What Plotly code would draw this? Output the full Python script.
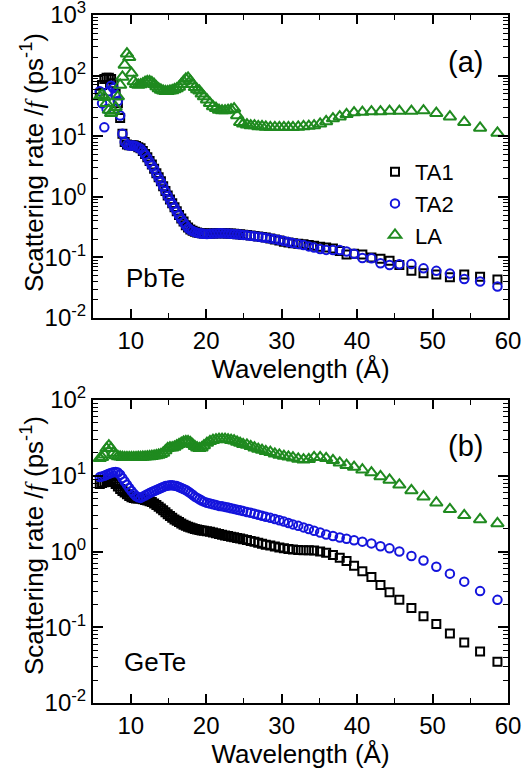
import plotly.graph_objects as go

# Wavelength grid (Å)
wavelength = [
    5.9, 6.2, 6.5, 6.8, 7.1, 7.4, 7.7, 8.0, 8.3, 8.6,
    8.9, 9.2, 9.5, 9.8, 10.1, 10.4, 10.7, 11.0, 11.3, 11.6,
    11.9, 12.2, 12.5, 12.8, 13.1, 13.4, 13.7, 14.0, 14.3, 14.6,
    14.9, 15.2, 15.5, 15.8, 16.1, 16.4, 16.7, 17.0, 17.3, 17.6,
    17.9, 18.2, 18.5, 18.8, 19.1, 19.4, 19.7, 20.1, 20.5, 20.9,
    21.3, 21.7, 22.1, 22.5, 22.9, 23.3, 23.7, 24.1, 24.5, 24.9,
    25.4, 25.9, 26.4, 26.9, 27.4, 27.9, 28.5, 29.1, 29.7, 30.3,
    30.9, 31.5, 32.2, 32.9, 33.6, 34.3, 35.1, 35.9, 36.8, 37.7,
    38.6, 39.6, 40.7, 41.9, 43.1, 44.3, 45.6, 47.2, 48.8, 50.5,
    52.3, 54.2, 56.3, 58.6,
]

# PbTe (panel a)
pbte_ta1 = [
    50, 70, 88, 92, 92, 88, 75, 50, 35, 20,
    11, 8, 7.3, 7.1, 7.1, 7.1, 6.9, 6.6, 6.3, 5.7,
    5.1, 4.5, 3.9, 3.4, 2.9, 2.45, 2.1, 1.8, 1.5, 1.25,
    1.05, 0.9, 0.78, 0.67, 0.58, 0.5, 0.44, 0.39, 0.34, 0.31,
    0.29, 0.275, 0.265, 0.258, 0.252, 0.25, 0.248, 0.247, 0.247, 0.248,
    0.25, 0.25, 0.25, 0.25, 0.249, 0.247, 0.245, 0.242, 0.24, 0.237,
    0.234, 0.23, 0.226, 0.222, 0.218, 0.212, 0.205, 0.198, 0.19, 0.182,
    0.176, 0.172, 0.168, 0.165, 0.16, 0.155, 0.15, 0.145, 0.14, 0.128,
    0.112, 0.115, 0.112, 0.1, 0.095, 0.088, 0.075, 0.06, 0.055, 0.052,
    0.047, 0.052, 0.048, 0.043,
]
pbte_ta2 = [
    55, 35, 14, 28, 55, 68, 62, 48, 38, 22,
    11, 8, 7.2, 7.0, 7.0, 7.0, 6.8, 6.5, 6.2, 5.6,
    5.0, 4.4, 3.8, 3.3, 2.9, 2.4, 2.05, 1.75, 1.48, 1.23,
    1.03, 0.88, 0.76, 0.66, 0.57, 0.49, 0.43, 0.38, 0.335, 0.305,
    0.285, 0.272, 0.262, 0.255, 0.25, 0.247, 0.245, 0.244, 0.245, 0.247,
    0.249, 0.25, 0.25, 0.249, 0.247, 0.245, 0.243, 0.24, 0.238, 0.235,
    0.232, 0.228, 0.224, 0.22, 0.215, 0.21, 0.205, 0.2, 0.193, 0.186,
    0.18, 0.173, 0.166, 0.16, 0.152, 0.145, 0.137, 0.133, 0.132, 0.132,
    0.125, 0.115, 0.098, 0.097, 0.08, 0.075, 0.077, 0.078, 0.066, 0.06,
    0.054, 0.044, 0.04, 0.033,
]
pbte_la = [
    45, 48, 44, 35, 27, 24, 26, 30, 45, 70,
    95, 150, 230, 200, 110, 80, 72, 70, 71, 74,
    78, 80, 80, 77, 72, 66, 61, 58, 56, 55,
    55, 56, 57, 59, 61, 65, 72, 80, 88, 92,
    82, 72, 64, 59, 56, 50, 45, 40, 35, 31,
    29, 27, 26.5, 26.5, 27, 27.5, 28.5, 22, 17, 16,
    15.5, 15, 15, 14.5, 14.5, 14.2, 14, 14, 14, 14,
    14, 14, 14.2, 14.5, 14.7, 15, 16, 17.5, 19.5, 21,
    23, 24.5, 25, 25.5, 25.5, 26, 26, 26, 26.5, 24,
    21, 17, 13.7, 11.3,
]

# GeTe (panel b)
gete_ta1 = [
    7.8, 8.0, 8.2, 8.4, 8.6, 8.6, 8.3, 7.8, 7.2, 6.7,
    6.3, 6.0, 5.7, 5.4, 5.2, 5.1, 5.0, 5.0, 5.0, 4.9,
    4.8, 4.7, 4.6, 4.5, 4.3, 4.1, 3.9, 3.7, 3.5, 3.3,
    3.1, 2.95, 2.8, 2.65, 2.55, 2.45, 2.35, 2.25, 2.18, 2.12,
    2.07, 2.02, 1.98, 1.95, 1.92, 1.9, 1.88, 1.85, 1.82, 1.78,
    1.74, 1.7, 1.67, 1.63, 1.6, 1.57, 1.54, 1.51, 1.48, 1.45,
    1.42, 1.38, 1.34, 1.3, 1.27, 1.23, 1.2, 1.16, 1.13, 1.1,
    1.08, 1.06, 1.05, 1.04, 1.04, 1.03, 1.0, 0.96, 0.9, 0.83,
    0.75, 0.65, 0.55, 0.46, 0.36, 0.29, 0.23, 0.18, 0.14, 0.11,
    0.083, 0.063, 0.048, 0.035,
]
gete_ta2 = [
    9.6, 9.8, 10.0, 10.3, 10.6, 10.9, 11.1, 11.2, 11.0, 10.3,
    9.3, 8.4, 7.6, 6.9, 6.3, 5.8, 5.4, 5.2, 5.1, 5.3,
    5.5, 5.7, 5.9, 6.1, 6.3, 6.5, 6.7, 6.9, 7.1, 7.3,
    7.4, 7.5, 7.5, 7.4, 7.3, 7.1, 6.9, 6.7, 6.5, 6.2,
    5.9, 5.6, 5.3, 5.1, 4.9, 4.7, 4.55, 4.4, 4.3, 4.2,
    4.1, 4.0, 3.95, 3.88, 3.8, 3.72, 3.65, 3.57, 3.5, 3.42,
    3.33, 3.24, 3.15, 3.06, 2.97, 2.88, 2.78, 2.68, 2.58, 2.48,
    2.38, 2.28, 2.18, 2.08, 1.98, 1.88, 1.78, 1.68, 1.6, 1.53,
    1.47, 1.41, 1.35, 1.28, 1.17, 1.1, 1.0, 0.87, 0.76, 0.63,
    0.51, 0.40, 0.30, 0.23,
]
gete_la = [
    17, 17.5, 19, 23, 25, 23, 20, 18.5, 18, 17.8,
    17.6, 17.5, 17.5, 17.5, 17.5, 17.5, 17.5, 17.6, 17.6, 17.7,
    17.8, 17.9, 18, 18.1, 18.3, 18.5, 18.8, 19.2, 20, 21.5,
    23, 23.5, 23.5, 24, 25, 26, 27, 28, 28.5, 28.5,
    27.5, 26, 24.5, 23.5, 23, 23.5, 25, 27, 28.5, 29.5,
    30, 30.5, 30.5, 30.5, 30, 29.5, 29, 28, 27, 26,
    25.5, 24.5, 23.5, 22.5, 21.8, 21, 20.5, 19.5, 18.8, 18.2,
    17.8, 17.3, 16.7, 16.3, 16.5, 17.5, 17.5, 17, 16, 14.8,
    13.8, 13, 12, 11, 9.8, 8.8, 7.6, 6.4, 5.3, 4.4,
    3.6, 3.0, 2.65, 2.35,
]

series_names = ["TA1", "TA2", "LA"]
series_colors = ["#000000", "#1414dc", "#1f8a1f"]
series_symbols = ["square-open", "circle-open", "triangle-up-open"]
series_sizes = [8, 8.5, 11]

x_ticks = [10, 20, 30, 40, 50, 60]
y_ticks_a = [1e-2, 1e-1, 1e0, 1e1, 1e2, 1e3]
y_labels_a = ["10<sup>-2</sup>", "10<sup>-1</sup>", "10<sup>0</sup>",
              "10<sup>1</sup>", "10<sup>2</sup>", "10<sup>3</sup>"]
y_ticks_b = [1e-2, 1e-1, 1e0, 1e1, 1e2]
y_labels_b = ["10<sup>-2</sup>", "10<sup>-1</sup>", "10<sup>0</sup>",
              "10<sup>1</sup>", "10<sup>2</sup>"]

FONT = "Liberation Sans, Arial, sans-serif"

fig = go.Figure()

panels = [
    ("x", "y", [pbte_ta1, pbte_ta2, pbte_la], True),
    ("x2", "y2", [gete_ta1, gete_ta2, gete_la], False),
]
for xa, ya, data, show in panels:
    for i, vals in enumerate(data):
        fig.add_trace(go.Scatter(
            x=wavelength, y=vals, xaxis=xa, yaxis=ya, mode="markers",
            name=series_names[i], showlegend=show,
            marker=dict(symbol=series_symbols[i], size=series_sizes[i],
                        color=series_colors[i],
                        line=dict(width=2, color=series_colors[i])),
        ))

W, H = 524, 771
xdom = [93 / W, 508 / W]
ydom_a = [1 - 318 / H, 1 - 15 / H]
ydom_b = [1 - 703 / H, 1 - 400 / H]

ytitle = ("Scattering rate /<span style=\"font-family:'Liberation Serif';font-style:italic\">f</span>"
          " (ps<sup>-1</sup>)")


def xaxis_cfg(anchor):
    return dict(
        domain=xdom, anchor=anchor, range=[5, 60], automargin=False,
        tickvals=x_ticks, ticks="inside", ticklen=9, tickwidth=1.5,
        tickcolor="black", showline=True, linecolor="black", linewidth=2,
        mirror="allticks", showgrid=False, zeroline=False,
        ticklabeloverflow="allow",
        minor=dict(dtick=5, tick0=0, ticks="inside", ticklen=5, tickwidth=1.2,
                   tickcolor="black", showgrid=False),
        tickfont=dict(size=24, family=FONT, color="black"),
        title=dict(text="Wavelength (Å)", font=dict(size=26, family=FONT, color="black"),
                   standoff=0),
    )


def yaxis_cfg(anchor, dom, rng, tv, tt):
    return dict(
        domain=dom, anchor=anchor, type="log", range=rng, automargin=False,
        tickvals=tv, ticktext=tt, ticks="inside", ticklen=10, tickwidth=1.5,
        tickcolor="black", showline=True, linecolor="black", linewidth=2,
        mirror="allticks", showgrid=False, zeroline=False,
        ticklabeloverflow="allow",
        minor=dict(ticks="inside", ticklen=5, tickwidth=1, tickcolor="black",
                   dtick="D1", showgrid=False),
        tickfont=dict(size=24, family=FONT, color="black"),
    )


def label(text, x, y, size, angle=0):
    return dict(text=text, x=x / W, y=1 - y / H, xref="paper", yref="paper",
                xanchor="center", yanchor="middle", showarrow=False,
                textangle=angle, font=dict(size=size, family=FONT, color="black"))


fig.update_layout(
    width=W, height=H,
    margin=dict(l=0, r=0, t=0, b=0, autoexpand=False),
    paper_bgcolor="white", plot_bgcolor="white",
    font=dict(family=FONT, color="black"),
    xaxis=xaxis_cfg("y"),
    yaxis=yaxis_cfg("x", ydom_a, [-2, 3], y_ticks_a, y_labels_a),
    xaxis2=xaxis_cfg("y2"),
    yaxis2=yaxis_cfg("x2", ydom_b, [-2, 2], y_ticks_b, y_labels_b),
    legend=dict(x=375 / W, y=1 - 151 / H, xanchor="left", yanchor="top",
                font=dict(size=22, family=FONT, color="black"),
                bgcolor="rgba(0,0,0,0)", borderwidth=0, itemwidth=30,
                tracegroupgap=0),
    annotations=[
        label(ytitle, 32, 163, 26, -90),
        label(ytitle, 32, 546, 26, -90),
        label("(a)", 465, 62, 29),
        label("PbTe", 155, 278, 26),
        label("(b)", 465, 446, 29),
        label("GeTe", 155, 662, 26),
    ],
)

fig.write_html("out.html")
